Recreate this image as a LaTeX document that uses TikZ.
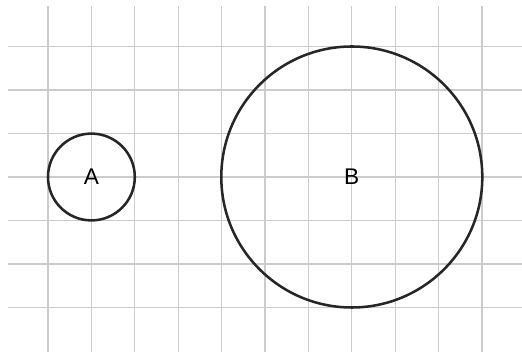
\documentclass[tikz,border=0pt]{standalone}
\usepackage{fontspec}
\setmainfont{Liberation Sans}
\begin{document}
\begin{tikzpicture}[x=0.75pt,y=-0.75pt,
  gridline/.style={draw=black!20,line width=1pt},
  ring/.style={circle,draw=black!85,line width=1.9pt,inner sep=0pt,font=\fontsize{17}{20}\selectfont}]
\useasboundingbox (0,0) rectangle (522,352);
\foreach \k in {0,...,10}{
  \draw[gridline] ({48+43.4*\k},6) -- ({48+43.4*\k},352);
}
\foreach \k in {0,...,6}{
  \draw[gridline] (8,{46.5+43.5*\k}) -- (522,{46.5+43.5*\k});
}
\node[ring,minimum size=86.8*0.75pt] (a) at (91.4,177) {A};
\node[ring,minimum size=261*0.75pt] (b) at (351.8,177) {B};
\end{tikzpicture}
\end{document}
